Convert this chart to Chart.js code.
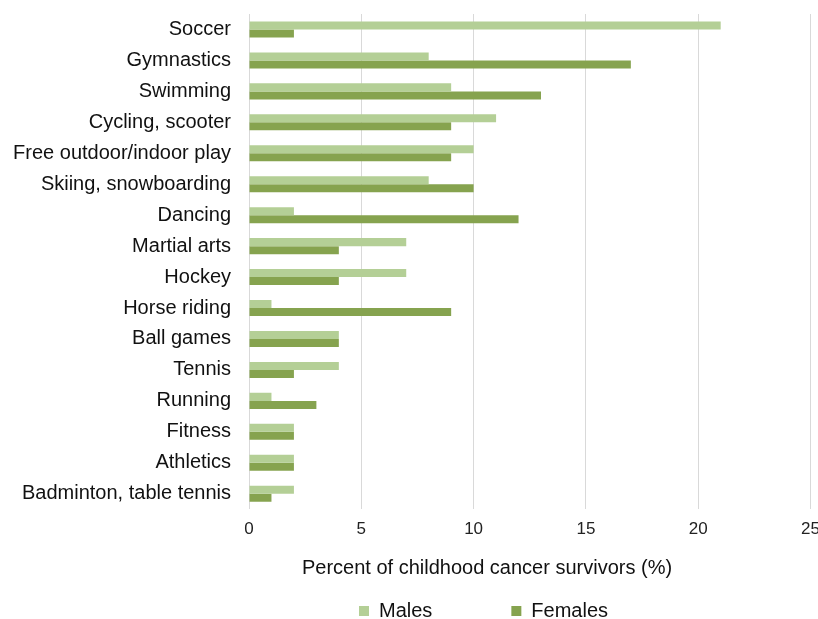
<!DOCTYPE html>
<html lang="en">
<head>
  <meta charset="UTF-8" />
  <title>Sports of childhood cancer survivors</title>
  <script src="https://cdn.jsdelivr.net/npm/chart.js"></script>
  <style>
    html, body {
      margin: 0;
      padding: 0;
      background: #fff;
      overflow: hidden;
    }
    .wrap {
      width: 830px;
      height: 619px;
      position: relative;
    }
  </style>
</head>
<body>
  <div class="wrap">
    <canvas id="sportsChart"></canvas>
  </div>

  <script>
    const categories = [
      "Soccer", "Gymnastics", "Swimming", "Cycling, scooter",
      "Free outdoor/indoor play", "Skiing, snowboarding", "Dancing",
      "Martial arts", "Hockey", "Horse riding", "Ball games", "Tennis",
      "Running", "Fitness", "Athletics", "Badminton, table tennis"
    ];
    const males   = [21, 8, 9, 11, 10, 8, 2, 7, 7, 1, 4, 4, 1, 2, 2, 2];
    const females = [2, 17, 13, 9, 9, 10, 12, 4, 4, 9, 4, 2, 3, 2, 2, 1];
    const seriesNames = ["Males", "Females"];
    const xMin = 0, xMax = 25, xStep = 5;
    const axisTitle = "Percent of childhood cancer survivors (%)";

    const FONT = "'Liberation Sans', Arial, sans-serif";
    const LEGEND_GAP = 79;

    // move the axis caption and the legend to where the original puts them
    const placeBlocks = {
      id: "placeBlocks",
      afterLayout(chart) {
        const t = chart.titleBlock;
        if (t) {
          t.left = 487 - 400;
          t.right = 487 + 400;
          t.top = 568 - 12;
          t.bottom = t.top + 24;
        }
        const lg = chart.legend;
        if (lg) {
          lg.left = 359 - LEGEND_GAP;
          lg.right = 830;
          lg.top = 601 - LEGEND_GAP;
          lg.bottom = 619;
        }
      }
    };

    new Chart(document.getElementById("sportsChart"), {
      type: "bar",
      data: {
        labels: categories,
        datasets: [{
          label: seriesNames[0],
          data: males,
          backgroundColor: "#b4cf96"
        }, {
          label: seriesNames[1],
          data: females,
          backgroundColor: "#86a34f"
        }]
      },
      options: {
        indexAxis: "y",
        responsive: true,
        maintainAspectRatio: false,
        animation: false,
        datasets: {
          bar: { categoryPercentage: 0.52, barPercentage: 1 }
        },
        layout: {
          padding: { left: 0, right: 16, top: 14, bottom: 15.4 }
        },
        scales: {
          x: {
            min: xMin,
            max: xMax,
            ticks: {
              stepSize: xStep,
              padding: 10,
              color: "#222",
              font: { family: FONT, size: 17 }
            },
            grid: { color: "#d9d9d9", drawTicks: false },
            border: { display: false }
          },
          y: {
            ticks: {
              padding: 18,
              color: "#111",
              font: { family: FONT, size: 20 }
            },
            grid: { display: false, drawTicks: false },
            border: { display: false },
            afterFit(scale) {
              scale.width = 249;
              scale.paddingTop = 0;
              scale.paddingBottom = 0;
            }
          }
        },
        plugins: {
          title: {
            display: true,
            position: "bottom",
            text: axisTitle,
            color: "#111",
            padding: 0,
            font: { family: FONT, size: 20, weight: "normal" }
          },
          legend: {
            position: "bottom",
            align: "start",
            maxHeight: 30,
            labels: {
              boxWidth: 10,
              boxHeight: 10,
              padding: LEGEND_GAP,
              color: "#111",
              font: { family: FONT, size: 20 }
            }
          },
          tooltip: { enabled: false }
        }
      },
      plugins: [placeBlocks]
    });
  </script>
</body>
</html>
